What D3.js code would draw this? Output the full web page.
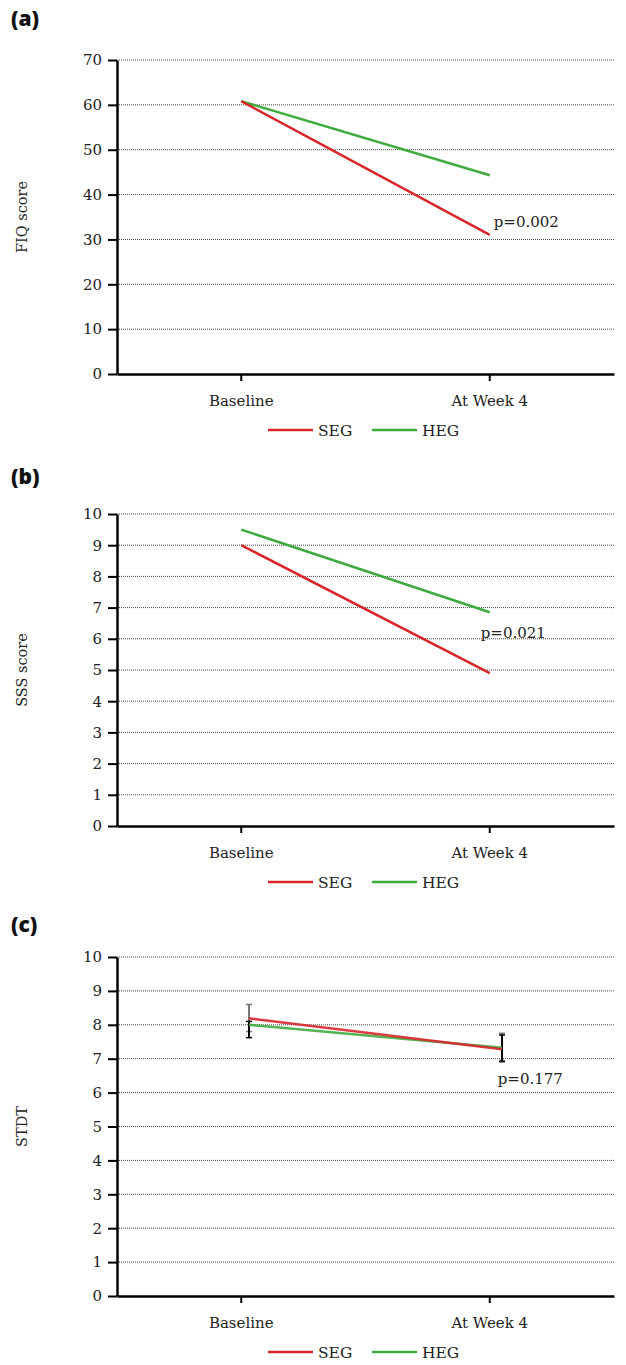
<!DOCTYPE html>
<html><head><meta charset="utf-8">
<script src="https://cdnjs.cloudflare.com/ajax/libs/d3/7.8.5/d3.min.js"></script>
<style>html,body{margin:0;padding:0;background:#fff;}svg{display:block;}</style>
</head><body>
<script>
// ---- data ----
const categories = ["Baseline", "At Week 4"];
const seriesNames = ["SEG", "HEG"];
const seriesColors = ["#d8262b", "#3fab3f"];

const fiqSEG = [60.8, 31.0];
const fiqHEG = [60.8, 44.3];
const fiqTicks = [0, 10, 20, 30, 40, 50, 60, 70];

const sssSEG = [9.0, 4.9];
const sssHEG = [9.5, 6.85];
const sssTicks = [0, 1, 2, 3, 4, 5, 6, 7, 8, 9, 10];

const stdtSEG = [8.19, 7.28];
const stdtHEG = [8.0, 7.32];
const stdtSEGLow = [7.8, 6.9];
const stdtSEGHigh = [8.6, 7.75];
const stdtHEGLow = [7.62, 6.93];
const stdtHEGHigh = [8.1, 7.7];
const stdtTicks = [0, 1, 2, 3, 4, 5, 6, 7, 8, 9, 10];

const panelLabels = ["(a)", "(b)", "(c)"];
const yTitles = ["FIQ score", "SSS score", "STDT"];
const pTexts = ["p=0.002", "p=0.021", "p=0.177"];
const pValuesAt = [32.8, 6.03, 6.25];

// ---- layout ----
const W = 626, H = 1365;
const svg = d3.select("body").append("svg").attr("width", W).attr("height", H);
const serif = "DejaVu Serif, serif";

const panels = [
  {label: panelLabels[0], labelY: 26, top: 60, bottom: 374, ticks: fiqTicks, max: 70,
   seg: fiqSEG, heg: fiqHEG, title: yTitles[0], p: pTexts[0], pv: pValuesAt[0], pdx: 4, shifted: false},
  {label: panelLabels[1], labelY: 484, top: 514, bottom: 826, ticks: sssTicks, max: 10,
   seg: sssSEG, heg: sssHEG, title: yTitles[1], p: pTexts[1], pv: pValuesAt[1], pdx: -9, shifted: false},
  {label: panelLabels[2], labelY: 932, top: 957, bottom: 1296, ticks: stdtTicks, max: 10,
   seg: stdtSEG, heg: stdtHEG, title: yTitles[2], p: pTexts[2], pv: pValuesAt[2], pdx: 8, shifted: true,
   err: [{lo: stdtSEGLow, hi: stdtSEGHigh, color: "#777"}, {lo: stdtHEGLow, hi: stdtHEGHigh, color: "#000"}]}
];

const left = 117, right = 614;

panels.forEach(p => {
  const g = svg.append("g");
  const y = d3.scaleLinear().domain([0, p.max]).range([p.bottom, p.top]);
  const xBand = d3.scaleBand().domain(categories).range([left, right]).padding(0);
  const xTick = c => xBand(c) + xBand.bandwidth() / 2;
  const xPt = p.shifted
    ? d3.scalePoint().domain(categories).range([left, right]).padding(0.482).align(0.541)
    : xTick;

  // panel label
  g.append("text").attr("x", 11).attr("y", p.labelY)
    .style("font-family", "Open Sans, sans-serif").style("font-weight", 800)
    .style("font-size", "21px").attr("fill", "#111").text(p.label);

  // gridlines
  g.selectAll(".grid").data(p.ticks.filter(t => t > 0)).enter().append("line")
    .attr("x1", left).attr("x2", right)
    .attr("y1", d => y(d)).attr("y2", d => y(d))
    .attr("stroke", "#444").attr("stroke-width", 1).attr("stroke-dasharray", "1,1");

  // y axis
  const yAxis = d3.axisLeft(y).tickValues(p.ticks).tickSize(9).tickPadding(6).tickSizeOuter(0);
  const ya = g.append("g").attr("transform", `translate(${left},0)`).call(yAxis);
  ya.attr("font-family", null).attr("font-size", null);
  ya.select(".domain").attr("stroke", "#000").attr("stroke-width", 2.5);
  ya.selectAll(".tick line").attr("stroke", "#000").attr("stroke-width", 2);
  ya.selectAll(".tick text").style("font-family", serif).style("font-size", "15px").attr("fill", "#222");

  // x axis
  const xa = g.append("g").attr("transform", `translate(0,${p.bottom})`)
    .call(d3.axisBottom(xBand).tickSize(7).tickPadding(14).tickSizeOuter(0));
  xa.attr("font-family", null).attr("font-size", null);
  xa.select(".domain").attr("stroke", "#000").attr("stroke-width", 2.5);
  xa.selectAll(".tick line").attr("stroke", "#000").attr("stroke-width", 2);
  xa.selectAll(".tick text").style("font-family", serif).style("font-size", "15px").attr("fill", "#222");

  // y title
  g.append("text")
    .attr("transform", `translate(27,${(p.top + p.bottom) / 2}) rotate(-90)`)
    .attr("text-anchor", "middle").style("font-family", serif).style("font-size", "14.5px")
    .attr("fill", "#222").text(p.title);

  // error bars
  if (p.err) {
    p.err.forEach(e => {
      categories.forEach((c, i) => {
        const cx = xPt(c);
        g.append("line").attr("x1", cx).attr("x2", cx)
          .attr("y1", y(e.lo[i])).attr("y2", y(e.hi[i]))
          .attr("stroke", e.color).attr("stroke-width", 2);
        [e.lo[i], e.hi[i]].forEach(v => {
          g.append("line").attr("x1", cx - 3).attr("x2", cx + 3)
            .attr("y1", y(v)).attr("y2", y(v))
            .attr("stroke", e.color).attr("stroke-width", 1.5);
        });
      });
    });
  }

  // lines
  const line = d3.line().x((d, i) => xPt(categories[i])).y(d => y(d));
  [p.heg, p.seg].forEach((vals, k) => {
    const color = k === 0 ? seriesColors[1] : seriesColors[0];
    g.append("path").datum(vals).attr("d", line)
      .attr("fill", "none").attr("stroke", color).attr("stroke-width", 2.5)
      .attr("stroke-opacity", p.shifted ? 0.9 : 1);
  });

  // p value
  g.append("text").attr("x", xTick(categories[1]) + p.pdx).attr("y", y(p.pv))
    .style("font-family", serif).style("font-size", "15px").attr("fill", "#222").text(p.p);

  // legend
  const ly = p.bottom + 56;
  const legX = [268, 372];
  seriesNames.forEach((n, i) => {
    g.append("line").attr("x1", legX[i]).attr("x2", legX[i] + 45)
      .attr("y1", ly).attr("y2", ly).attr("stroke", seriesColors[i]).attr("stroke-width", 2.5);
    g.append("text").attr("x", legX[i] + 50).attr("y", ly + 5.5)
      .style("font-family", serif).style("font-size", "15.5px").attr("fill", "#222").text(n);
  });
});
</script>
</body></html>
